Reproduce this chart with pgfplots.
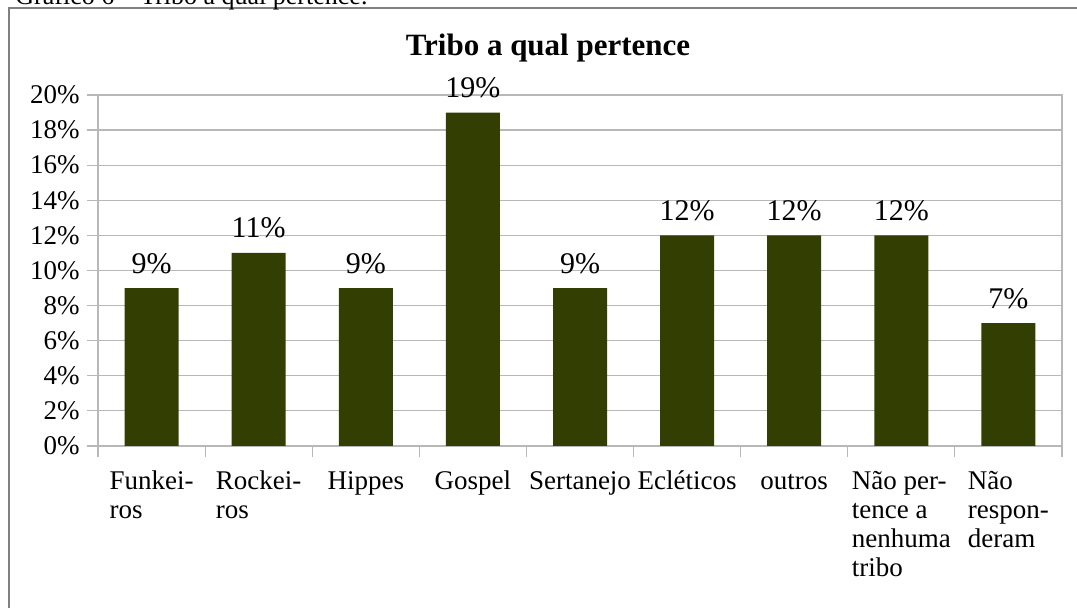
\documentclass[border=0pt]{standalone}
\usepackage{fontspec}
\setmainfont{Liberation Serif}
\usepackage{pgfplots}
\pgfplotsset{compat=1.18}
\definecolor{barolive}{RGB}{51,63,2}
\definecolor{gridgray}{RGB}{184,184,184}
\definecolor{framegray}{RGB}{128,128,128}
% strut that fixes the height of the first line of a category label
\newcommand\fl{\rule{0pt}{11pt}}

\begin{document}
\begin{tikzpicture}
\useasboundingbox (0,0) rectangle (538.5pt,304pt);
\clip (0,0) rectangle (538.5pt,304pt);
% outer frame of the figure
\draw[framegray, line width=0.8pt] (4.5pt,-10pt) rectangle (560pt,300pt);
% figure caption
\node[anchor=base west, inner sep=0pt, font=\fontsize{13}{15}\selectfont]
  at (7.5pt,301.5pt) {Gráfico 6 – Tribo a qual pertence.};
\begin{axis}[
  at={(49pt,81pt)}, anchor=south west,
  scale only axis, width=482pt, height=175.5pt,
  ybar, bar width=27pt, bar shift=0pt,
  xmin=-0.5, xmax=8.5, ymin=0, ymax=20,
  xtick={0,...,8},
  xticklabels={{\fl Funkei-\\ros},{\fl Rockei-\\ros},\fl Hippes,\fl Gospel,\fl Sertanejo,\fl Ecléticos,\fl outros,{\fl Não per-\\tence a\\nenhuma\\tribo},{\fl Não\\respon-\\deram}},
  minor xtick={-0.5,0.5,...,8.5},
  major x tick style={draw=none},
  minor tick length=5.5pt,
  major tick length=5.5pt,
  tick align=outside,
  tick pos=left,
  ytick={0,2,...,20},
  yticklabel={\pgfmathprintnumber{\tick}\%},
  ymajorgrids,
  grid style={gridgray, line width=0.6pt},
  axis line style={gridgray, line width=0.6pt},
  tick style={gridgray, line width=0.6pt},
  /pgf/number format/assume math mode=true,
  ticklabel style={font=\fontsize{13.5}{14.5}\selectfont, text=black},
  yticklabel style={anchor=east, inner sep=0pt, xshift=-3.5pt},
  xticklabel style={anchor=north, inner sep=0pt, align=left, yshift=-5pt},
  title={Tribo a qual pertence},
  title style={at={(0.5,1)}, anchor=base, inner sep=0pt, yshift=13.5pt, xshift=-16pt,
    font=\fontsize{15.5}{17}\selectfont\bfseries},
  nodes near coords={\pgfmathprintnumber{\pgfplotspointmeta}\%},
  nodes near coords style={anchor=base, inner sep=0pt, yshift=7.5pt,
    font=\fontsize{15}{17}\selectfont, text=black},
]
\addplot[fill=barolive, draw=none] coordinates {
  (0,9) (1,11) (2,9) (3,19) (4,9) (5,12) (6,12) (7,12) (8,7)
};
\end{axis}
\end{tikzpicture}
\end{document}
